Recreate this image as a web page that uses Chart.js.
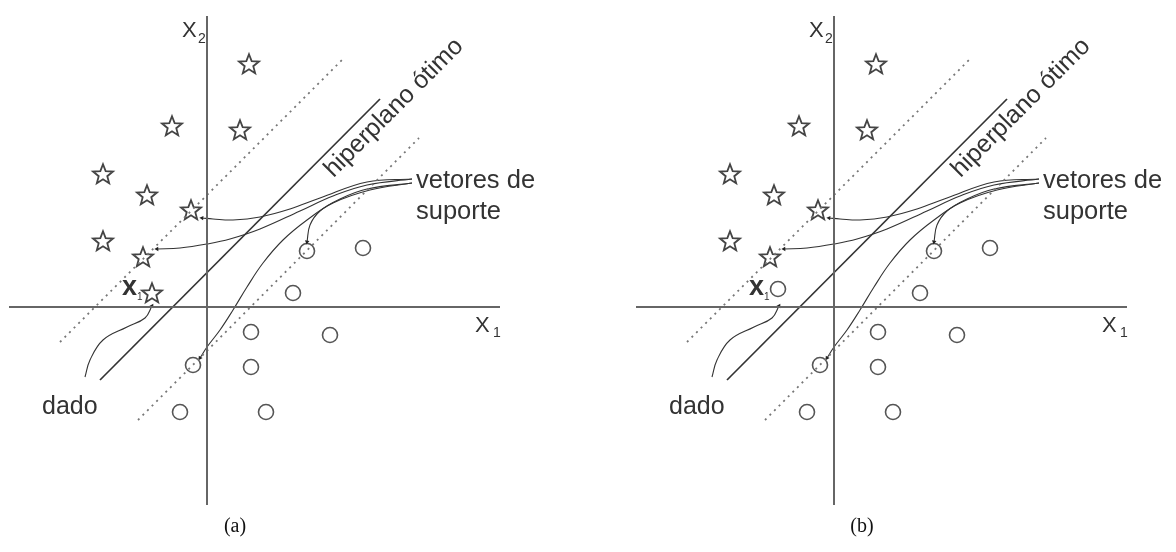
<!DOCTYPE html>
<html><head><meta charset="utf-8">
<script src="https://cdn.jsdelivr.net/npm/chart.js@4.4.0/dist/chart.umd.min.js"></script>
<style>
html,body{margin:0;padding:0;background:#fff;}
#wrap{position:relative;width:1176px;height:552px;overflow:hidden;background:#fff;}
.panel{position:absolute;top:0;width:549px;height:552px;}
</style></head><body>
<div id="wrap">
<div class="panel" style="left:0"><canvas id="ca" width="549" height="552"></canvas></div>
<div class="panel" style="left:627px"><canvas id="cb" width="549" height="552"></canvas></div>
</div>
<script>
// ---- data (feature space units, origin at axes crossing) ----
const starX = [2.1, -1.75, 1.65, -5.2, -3.0, -0.8, -5.2, -3.2];
const starY = [12.15, 9.05, 8.85, 6.65, 5.6, 4.85, 3.3, 2.5];
const circleX = [5.0, 7.8, 4.3, 2.2, 6.15, -0.7, 2.2, -1.35, 2.95];
const circleY = [2.8, 2.95, 0.7, -1.25, -1.4, -2.9, -3.0, -5.25, -5.25];
const queryAX = [-2.75], queryAY = [0.7];   // panel (a): x1 classified as star
const queryBX = [-2.8],  queryBY = [0.9];   // panel (b): x1 classified as circle

const hyperX = [-5.35, 8.65], hyperY = [-3.65, 10.4];
const marginUpX = [-7.35, 6.75], marginUpY = [-1.75, 12.35];
const marginLowX = [-3.45, 10.6], marginLowY = [-5.65, 8.45];
const axisX1X = [-9.9, 14.65], axisX1Y = [0, 0];
const axisX2X = [0, 0], axisX2Y = [-9.9, 14.55];

// annotation curves (arrows)
const sv1X = [10.25, 8.0, 5.65, 4.15, 2.65, 1.3, 0.3, -0.25];
const sv1Y = [6.4, 6.25, 5.45, 4.9, 4.5, 4.35, 4.4, 4.45];
const sv2X = [10.25, 8.0, 6.3, 4.65, 2.65, 1.15, 0, -1.35, -2.5];
const sv2Y = [6.4, 6.1, 5.55, 4.8, 3.9, 3.4, 3.15, 2.95, 2.9];
const sv3X = [10.25, 8.0, 6.65, 5.65, 5.15, 5.0];
const sv3Y = [6.2, 5.9, 5.4, 4.8, 4.1, 3.25];
const sv4X = [10.25, 8.15, 6.3, 5.0, 3.8, 2.8, 2.0, 1.3, 0.65, 0, -0.35];
const sv4Y = [6.2, 5.85, 5.2, 4.35, 3.35, 2.2, 1.0, -0.15, -1.15, -2.0, -2.55];
const dadoX = [-6.1, -5.85, -5.2, -4.0, -3.1, -2.75];
const dadoY = [-3.5, -2.65, -1.65, -1.0, -0.55, 0.05];

const zip = (xs, ys) => xs.map((x, i) => ({x, y: ys[i]}));

// five-pointed outline star marker
function makeStar() {
  const c = document.createElement('canvas');
  c.width = 26; c.height = 26;
  const g = c.getContext('2d');
  g.beginPath();
  for (let i = 0; i < 10; i++) {
    const r = i % 2 === 0 ? 10.5 : 4.5;
    const a = -Math.PI / 2 + i * Math.PI / 5;
    const px = 13 + r * Math.cos(a), py = 13.8 + r * Math.sin(a);
    if (i === 0) g.moveTo(px, py); else g.lineTo(px, py);
  }
  g.closePath();
  g.lineWidth = 1.8;
  g.strokeStyle = '#444';
  g.lineJoin = 'miter';
  g.stroke();
  return c;
}
const starImg = makeStar();

const INK = '#333';
const FONT = '"Liberation Sans", Arial, sans-serif';

function lineDs(xs, ys, opts) {
  return Object.assign({
    data: zip(xs, ys), showLine: true, pointRadius: 0, pointHoverRadius: 0,
    borderColor: '#444', borderWidth: 1.6, tension: 0, fill: false
  }, opts);
}
function arrowDs(xs, ys) {
  const n = xs.length;
  return lineDs(xs, ys, {
    borderColor: '#333', borderWidth: 1.1, tension: 0.4,
    pointStyle: 'triangle',
    pointRadius: ctx => ctx.dataIndex === n - 1 ? 2.6 : 0,
    pointBackgroundColor: '#222', pointBorderColor: '#222', pointBorderWidth: 0,
    pointRotation: ctx => {
      if (ctx.dataIndex !== n - 1) return 0;
      const sx = ctx.chart.scales.x, sy = ctx.chart.scales.y;
      const dx = sx.getPixelForValue(xs[n-1]) - sx.getPixelForValue(xs[n-2]);
      const dy = sy.getPixelForValue(ys[n-1]) - sy.getPixelForValue(ys[n-2]);
      return Math.atan2(dx, -dy) * 180 / Math.PI;
    }
  });
}

function labelsFor(caption) {
  return [
    {t: 'X', x: -1.25, y: 13.5, size: 22},
    {t: '2', x: -0.45, y: 13.2, size: 14},
    {t: 'X', x: 13.4, y: -1.25, size: 22},
    {t: '1', x: 14.3, y: -1.5, size: 14},
    {t: 'x', x: -4.25, y: 0.6, size: 27, bold: true},
    {t: '1', x: -3.5, y: 0.35, size: 10},
    {t: 'hiperplano ótimo', x: 9.35, y: 9.95, size: 25, rot: -45, align: 'center', base: 'middle'},
    {t: 'vetores de', x: 10.45, y: 5.95, size: 25.5},
    {t: 'suporte', x: 10.45, y: 4.4, size: 25.5},
    {t: 'dado', x: -8.25, y: -5.35, size: 25},
    {t: caption, x: 1.4, y: -11.0, size: 20, serif: true, align: 'center', base: 'middle', color: '#111'}
  ];
}

const textPlugin = {
  id: 'texts',
  afterDatasetsDraw(chart, args, opts) {
    const {ctx} = chart;
    const sx = chart.scales.x, sy = chart.scales.y;
    opts.items.forEach(it => {
      ctx.save();
      ctx.translate(sx.getPixelForValue(it.x), sy.getPixelForValue(it.y));
      if (it.rot) ctx.rotate(it.rot * Math.PI / 180);
      ctx.font = (it.bold ? 'bold ' : '') + it.size + 'px ' + (it.serif ? '"Liberation Serif", "Times New Roman", serif' : FONT);
      ctx.fillStyle = it.color || INK;
      ctx.textAlign = it.align || 'left';
      ctx.textBaseline = it.base || 'alphabetic';
      ctx.fillText(it.t, 0, 0);
      ctx.restore();
    });
  }
};

function build(id, queryIsStar, qx, qy, caption) {
  const sX = queryIsStar ? starX.concat(qx) : starX;
  const sY = queryIsStar ? starY.concat(qy) : starY;
  const cX = queryIsStar ? circleX : circleX.concat(qx);
  const cY = queryIsStar ? circleY : circleY.concat(qy);
  new Chart(document.getElementById(id), {
    type: 'scatter',
    data: {
      datasets: [
        lineDs(axisX1X, axisX1Y, {borderColor: '#666', borderWidth: 2}),
        lineDs(axisX2X, axisX2Y, {borderColor: '#666', borderWidth: 2}),
        lineDs(marginUpX, marginUpY, {borderColor: '#777', borderWidth: 1.8, borderDash: [2, 4.5]}),
        lineDs(marginLowX, marginLowY, {borderColor: '#777', borderWidth: 1.8, borderDash: [2, 4.5]}),
        lineDs(hyperX, hyperY, {borderColor: '#333', borderWidth: 1.7}),
        arrowDs(sv1X, sv1Y),
        arrowDs(sv2X, sv2Y),
        arrowDs(sv3X, sv3Y),
        arrowDs(sv4X, sv4Y),
        arrowDs(dadoX, dadoY),
        {data: zip(sX, sY), pointStyle: starImg, pointRadius: 10, pointHoverRadius: 10},
        {data: zip(cX, cY), pointStyle: 'circle', pointRadius: 7.5, pointHoverRadius: 7.5,
         pointBackgroundColor: 'rgba(255,255,255,0)', pointBorderColor: '#555', pointBorderWidth: 1.6}
      ]
    },
    options: {
      responsive: false, animation: false, devicePixelRatio: 1,
      layout: {padding: 0, autoPadding: false},
      events: [],
      scales: {
        x: {type: 'linear', min: -10.35, max: 17.1, display: false},
        y: {type: 'linear', min: -12.25, max: 15.35, display: false}
      },
      plugins: {legend: {display: false}, tooltip: {enabled: false}, texts: {items: labelsFor(caption)}}
    },
    plugins: [textPlugin]
  });
}

build('ca', true, queryAX, queryAY, '(a)');
build('cb', false, queryBX, queryBY, '(b)');
</script>
</body></html>
